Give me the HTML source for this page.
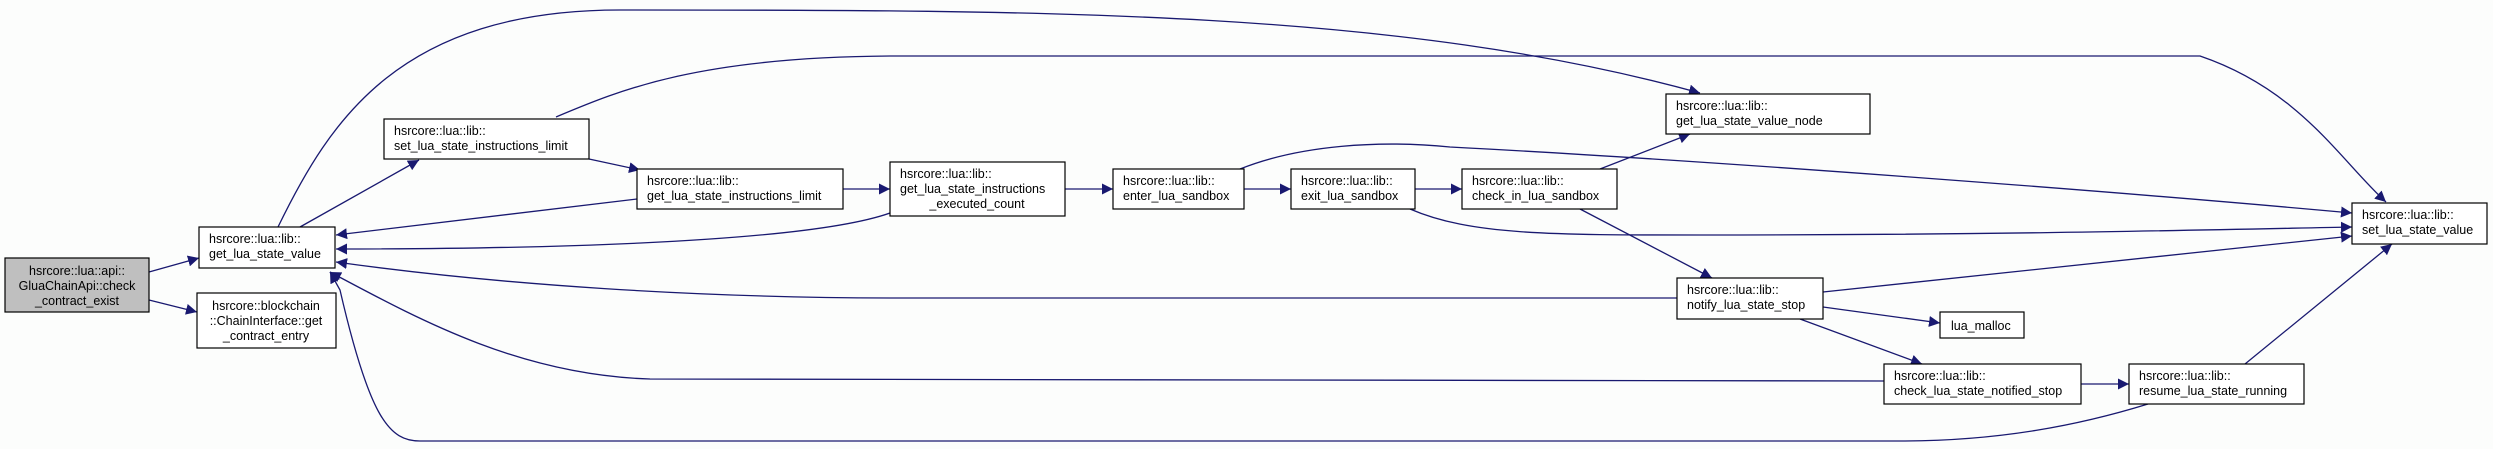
<!DOCTYPE html>
<html><head><meta charset="utf-8"><style>
html,body{margin:0;padding:0;background:#fcfdfc;}
svg{display:block;}
text{font-family:"Liberation Sans",sans-serif;font-size:12.5px;fill:#000;}
</style></head><body>
<svg width="2493" height="449" viewBox="0 0 2493 449" xmlns="http://www.w3.org/2000/svg">
<defs>
<marker id="a" viewBox="0 0 10 10" refX="10" refY="5" markerWidth="11" markerHeight="11" markerUnits="userSpaceOnUse" orient="auto">
<path d="M0,0 L10,5 L0,10 z" fill="#191970"/></marker>
</defs>
<rect width="2493" height="449" fill="#fcfdfc"/>
<g fill="none" stroke="#191970" stroke-width="1.3" marker-end="url(#a)">
<path d="M149,272 L199,258"/>
<path d="M149,300 L197,312"/>
<path d="M300,227 L419,160"/>
<path d="M278,227 C330,120 400,10 620,10 C1050,10 1400,10 1700,93"/>
<path d="M556,117 C620,90 700,56 900,56 L2200,56 C2300,90 2340,160 2386,202"/>
<path d="M589,159 L640,170"/>
<path d="M843,189 L890,189"/>
<path d="M1065,189 L1113,189"/>
<path d="M1244,189 L1291,189"/>
<path d="M1415,189 L1462,189"/>
<path d="M637,199 L336,235"/>
<path d="M890,213 C800,245 500,249 336,249"/>
<path d="M1677,298 L900,298 C700,298 500,285 336,262"/>
<path d="M1884,381 L650,379 C520,375 420,320 330,272"/>
<path d="M2148,404 C2080,425 2000,441 1900,441 L420,441 C390,441 370,420 340,290 L330,272"/>
<path d="M1240,169 C1300,145 1380,140 1450,147 C1700,160 2100,190 2352,213"/>
<path d="M1410,209 C1470,235 1550,235 1700,235 C2000,235 2200,230 2352,227"/>
<path d="M1823,292 L2352,236"/>
<path d="M1600,169 L1690,134"/>
<path d="M1580,209 L1712,278"/>
<path d="M1823,307 L1940,323"/>
<path d="M1800,319 L1922,364"/>
<path d="M2081,384 L2129,384"/>
<path d="M2245,364 L2392,244"/>
</g>
<g stroke="#000" stroke-width="1.2" fill="#fff">
<rect x="5" y="258" width="144" height="54" fill="#bfbfbf"/>
<rect x="199" y="227" width="136" height="41"/>
<rect x="197" y="293" width="139" height="55"/>
<rect x="384" y="119" width="205" height="40"/>
<rect x="637" y="169" width="206" height="40"/>
<rect x="890" y="162" width="175" height="54"/>
<rect x="1113" y="169" width="131" height="40"/>
<rect x="1291" y="169" width="124" height="40"/>
<rect x="1462" y="169" width="155" height="40"/>
<rect x="1666" y="94" width="204" height="40"/>
<rect x="2352" y="203" width="135" height="41"/>
<rect x="1677" y="278" width="146" height="41"/>
<rect x="1940" y="312" width="84" height="26"/>
<rect x="1884" y="364" width="197" height="40"/>
<rect x="2129" y="364" width="175" height="40"/>
</g>
<g>
<text x="77" y="275" text-anchor="middle">hsrcore::lua::api::</text>
<text x="77" y="290" text-anchor="middle">GluaChainApi::check</text>
<text x="77" y="305" text-anchor="middle">_contract_exist</text>
<text x="209" y="243">hsrcore::lua::lib::</text>
<text x="209" y="258">get_lua_state_value</text>
<text x="266" y="310" text-anchor="middle">hsrcore::blockchain</text>
<text x="266" y="325" text-anchor="middle">::ChainInterface::get</text>
<text x="266" y="340" text-anchor="middle">_contract_entry</text>
<text x="394" y="135">hsrcore::lua::lib::</text>
<text x="394" y="150">set_lua_state_instructions_limit</text>
<text x="647" y="185">hsrcore::lua::lib::</text>
<text x="647" y="200">get_lua_state_instructions_limit</text>
<text x="900" y="178">hsrcore::lua::lib::</text>
<text x="900" y="193">get_lua_state_instructions</text>
<text x="977" y="208" text-anchor="middle">_executed_count</text>
<text x="1123" y="185">hsrcore::lua::lib::</text>
<text x="1123" y="200">enter_lua_sandbox</text>
<text x="1301" y="185">hsrcore::lua::lib::</text>
<text x="1301" y="200">exit_lua_sandbox</text>
<text x="1472" y="185">hsrcore::lua::lib::</text>
<text x="1472" y="200">check_in_lua_sandbox</text>
<text x="1676" y="110">hsrcore::lua::lib::</text>
<text x="1676" y="125">get_lua_state_value_node</text>
<text x="2362" y="219">hsrcore::lua::lib::</text>
<text x="2362" y="234">set_lua_state_value</text>
<text x="1687" y="294">hsrcore::lua::lib::</text>
<text x="1687" y="309">notify_lua_state_stop</text>
<text x="1951" y="330">lua_malloc</text>
<text x="1894" y="380">hsrcore::lua::lib::</text>
<text x="1894" y="395">check_lua_state_notified_stop</text>
<text x="2139" y="380">hsrcore::lua::lib::</text>
<text x="2139" y="395">resume_lua_state_running</text>
</g>
</svg>
</body></html>
